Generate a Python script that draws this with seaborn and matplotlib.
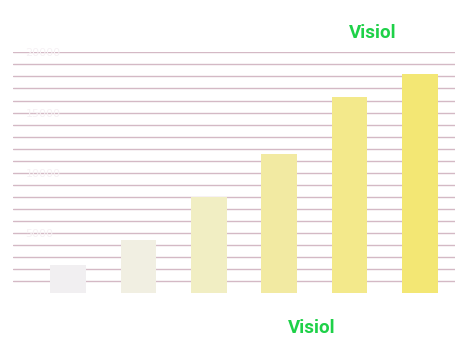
import matplotlib
matplotlib.use("Agg")
import matplotlib.pyplot as plt
import seaborn as sns
import pandas as pd
import numpy as np

categories = ["A", "B", "C", "D", "E", "F"]
values = [2350, 4400, 8000, 11550, 16300, 18200]
bar_colors = ["#f1eff1", "#f1efe2", "#f1eec3", "#f2eaa2", "#f3e98b", "#f3e774"]
tick_values = [5000, 10000, 15000, 20000]
tick_labels = ["5000", "10000", "15000", "20000"]
brand = "Visiol"

df = pd.DataFrame({"cat": categories, "val": values})

sns.set_theme(style="white")
fig = plt.figure(figsize=(4.72, 3.43), dpi=100)
ax = fig.add_axes([13/472, 1-293.4/343, (455-13)/472, (293.4-52.3)/343])

# gridlines
for g in range(1000, 20001, 1000):
    ax.axhline(g, color="#d4b9c5", lw=1.0, zorder=0)

sns.barplot(data=df, x="cat", y="val", hue="cat", palette=bar_colors,
            legend=False, width=0.51, ax=ax, saturation=1, zorder=2,
            linewidth=0, edgecolor="none")

ax.set_xlim(-0.784, 5.5)
ax.set_ylim(0, 20000)
ax.set_yticks(tick_values)
ax.set_yticklabels(tick_labels)
ax.tick_params(axis="y", direction="in", pad=-9, length=0, labelsize=8,
               labelcolor="#f6f1f4")
for lab in ax.get_yticklabels():
    lab.set_horizontalalignment("left")
ax.set_xticks([])
ax.set_xlabel("")
ax.set_ylabel("")
for s in ax.spines.values():
    s.set_visible(False)

fig.text(373/472, 1-33/343, brand, color="#1ed148", fontsize=13.5,
         fontweight="bold", family="Roboto", ha="center", va="center")
fig.text(312/472, 1-328/343, brand, color="#1ed148", fontsize=13.5,
         fontweight="bold", family="Roboto", ha="center", va="center")

fig.savefig("out.png", dpi=100, facecolor="white")
